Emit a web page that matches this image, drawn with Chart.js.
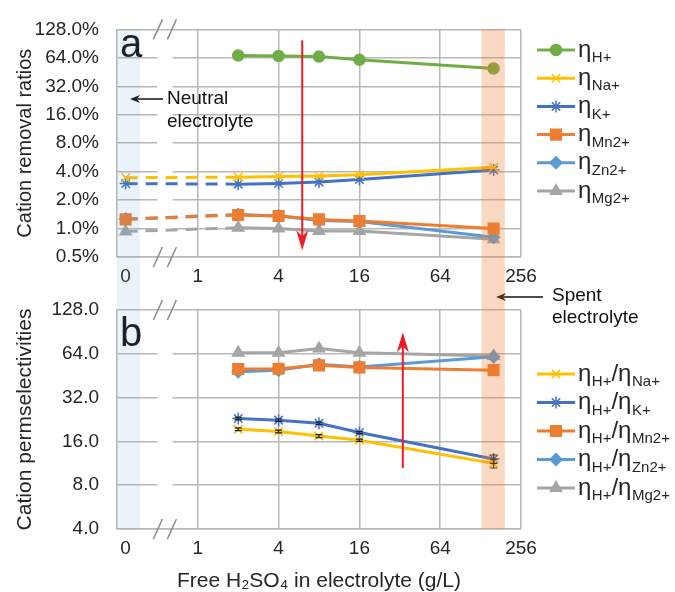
<!DOCTYPE html>
<html>
<head>
<meta charset="utf-8">
<script src="https://cdn.jsdelivr.net/npm/chart.js@4.4.1/dist/chart.umd.min.js"></script>
<style>
  html, body { margin: 0; padding: 0; background: #fff; }
  #wrap { position: relative; width: 675px; height: 592px; overflow: hidden; }
  .box { position: absolute; left: 0; width: 675px; }
  #topBox { top: 0; height: 290px; }
  #botBox { top: 270px; height: 322px; }
</style>
</head>
<body>
<div id="wrap">
  <div class="box" id="topBox"><canvas id="chartTop"></canvas></div>
  <div class="box" id="botBox"><canvas id="chartBottom"></canvas></div>
</div>
<script>
// free H2SO4 in electrolyte (g/L); 0 = neutral electrolyte, 160 = spent electrolyte
const concentrations = [0, 2, 4, 8, 16, 160];

// panel a - cation removal ratios (%)
const etaH  = [null, 67.8, 67.0, 66.0, 61.0, 49.4];
const etaNa = [3.45, 3.50, 3.56, 3.60, 3.70, 4.45];
const etaK  = [2.99, 2.95, 3.00, 3.10, 3.30, 4.17];
const etaMn = [1.25, 1.39, 1.36, 1.25, 1.20, 1.00];
const etaZn = [1.26, 1.41, 1.36, 1.22, 1.19, 0.81];
const etaMg = [0.93, 1.02, 1.00, 0.94, 0.94, 0.77];

// panel b - cation permselectivities
const selConc = [2, 4, 8, 16, 160];
const selNa = [19.4, 18.7, 17.4, 16.3, 11.3];
const selK  = [23.0, 22.4, 21.3, 18.4, 12.1];
const selMn = [50.3, 50.5, 53.3, 51.6, 49.4];
const selZn = [48.2, 49.4, 54.2, 52.0, 61.0];
const selMg = [65.2, 65.0, 69.6, 65.0, 61.8];
const selNaErr = [0.4, 0.4, 0.4, 0.3, 0.8];
const selKErr  = [0.4, 0.4, 0.4, 0.3, 0.8];

// tick labels
const xTicks = [0, 1, 4, 16, 64, 256];
const yTicksTop = [0.5, 1, 2, 4, 8, 16, 32, 64, 128];
const yTicksBottom = [4, 8, 16, 32, 64, 128];

// where "0" sits on the broken log axis
const ZERO_POS = 0.29;
const xPos = v => (v === 0 ? ZERO_POS : v);

const FONT = "'Liberation Sans', Arial, sans-serif";
const TEXT = '#262626';
const GRID = '#b8b8b8';
const C = {
  H: '#70ad47', Na: '#ffc000', K: '#4472c4', Mn: '#ed7d31', Zn: '#5b9bd5', Mg: '#a5a5a5'
};

function series(label, color, xs, ys, style, radius, dashFirst, errs) {
  const pts = [];
  xs.forEach((x, i) => {
    if (ys[i] != null) pts.push({ x: xPos(x), y: ys[i], err: errs ? errs[i] : 0 });
  });
  return {
    label, data: pts,
    borderColor: color, backgroundColor: color,
    borderWidth: 3, pointStyle: style, pointRadius: radius, pointBorderWidth: 1.5,
    pointHoverRadius: radius,
    segment: { borderDash: ctx => (dashFirst && ctx.p0DataIndex === 0 ? [12, 8] : undefined) }
  };
}

const topSets = [
  series('H+', C.H, concentrations, etaH, 'circle', 5.5, false),
  series('Na+', C.Na, concentrations, etaNa, 'crossRot', 6, true),
  series('K+', C.K, concentrations, etaK, 'star', 6, true),
  series('Mn2+', C.Mn, concentrations, etaMn, 'rect', 7.5, true),
  series('Zn2+', C.Zn, concentrations, etaZn, 'rectRot', 6, true),
  series('Mg2+', C.Mg, concentrations, etaMg, 'triangle', 6.5, true)
];
const bottomSets = [
  series('Na+', C.Na, selConc, selNa, 'crossRot', 6, false, selNaErr),
  series('K+', C.K, selConc, selK, 'star', 6, false, selKErr),
  series('Mn2+', C.Mn, selConc, selMn, 'rect', 7.5, false),
  series('Zn2+', C.Zn, selConc, selZn, 'rectRot', 6, false),
  series('Mg2+', C.Mg, selConc, selMg, 'triangle', 6.5, false)
];

function xScale(withTitle) {
  return {
    type: 'logarithmic', min: 0.25, max: 256,
    afterBuildTicks: s => { s.ticks = xTicks.map(v => ({ value: xPos(v) })); },
    afterFit: s => { s.height = withTitle ? 63 : 33; },
    border: { color: GRID, width: 1.5 },
    grid: {
      drawTicks: false, lineWidth: 1.5,
      color: c => (c.tick && c.tick.value === ZERO_POS ? 'rgba(0,0,0,0)' : GRID)
    },
    ticks: {
      autoSkip: false, maxRotation: 0, padding: 8, color: TEXT,
      font: { family: FONT, size: 19 },
      callback: v => (v === ZERO_POS ? '0' : String(v))
    },
    title: withTitle ? {
      display: true, text: 'Free H\u2082SO\u2084 in electrolyte (g/L)', color: TEXT,
      font: { family: FONT, size: 21, lineHeight: 1 }, padding: { top: 0, bottom: 0 }
    } : { display: false }
  };
}

function yScale(min, max, ticks, fmt, title, titleSize) {
  return {
    type: 'logarithmic', min, max,
    afterBuildTicks: s => { s.ticks = ticks.map(v => ({ value: v })); },
    afterFit: s => { s.width = 117; },
    border: { color: GRID, width: 1.5 },
    grid: { drawTicks: false, color: GRID, lineWidth: 1.5 },
    ticks: { autoSkip: false, padding: 18, color: TEXT, font: { family: FONT, size: 19 }, callback: fmt },
    title: {
      display: true, text: title, color: TEXT,
      font: { family: FONT, size: titleSize, lineHeight: 1 }, padding: { top: 15, bottom: 15 }
    }
  };
}

// white gap in the gridlines and // marks for the axis break
const breakPlugin = {
  id: 'axisBreak',
  beforeDatasetsDraw(chart) {
    const { ctx, chartArea: a, scales: { x } } = chart;
    const x0 = x.getPixelForValue(0.5), x1 = x.getPixelForValue(0.65);
    ctx.save();
    ctx.fillStyle = '#fff';
    ctx.fillRect(x0, a.top + 1.5, x1 - x0, a.bottom - a.top - 3);
    ctx.strokeStyle = '#8c8c8c';
    ctx.lineWidth = 1.5;
    [a.top, a.bottom].forEach(y => {
      [x0 - 4, x0 + 10].forEach(sx => {
        ctx.beginPath();
        ctx.moveTo(sx, y + 10);
        ctx.lineTo(sx + 9, y - 10);
        ctx.stroke();
      });
    });
    ctx.restore();
  }
};

const errorPlugin = {
  id: 'errBars',
  afterDatasetsDraw(chart) {
    const { ctx, scales: { y } } = chart;
    ctx.save();
    ctx.strokeStyle = '#222';
    ctx.lineWidth = 1.2;
    chart.data.datasets.forEach((ds, di) => {
      const meta = chart.getDatasetMeta(di);
      ds.data.forEach((p, i) => {
        if (!p.err) return;
        const px = meta.data[i].x;
        const yt = y.getPixelForValue(p.y + p.err), yb = y.getPixelForValue(p.y - p.err);
        ctx.beginPath();
        ctx.moveTo(px, yt); ctx.lineTo(px, yb);
        ctx.moveTo(px - 3.5, yt); ctx.lineTo(px + 3.5, yt);
        ctx.moveTo(px - 3.5, yb); ctx.lineTo(px + 3.5, yb);
        ctx.stroke();
      });
    });
    ctx.restore();
  }
};

function arrow(ctx, x1, y1, x2, y2, color, width, head, halfW) {
  const ang = Math.atan2(y2 - y1, x2 - x1);
  const cos = Math.cos(ang), sin = Math.sin(ang);
  ctx.save();
  ctx.strokeStyle = color; ctx.fillStyle = color; ctx.lineWidth = width;
  ctx.beginPath();
  ctx.moveTo(x1, y1);
  ctx.lineTo(x2 - cos * head * 0.6, y2 - sin * head * 0.6);
  ctx.stroke();
  ctx.beginPath();
  ctx.moveTo(x2, y2);
  ctx.lineTo(x2 - cos * head - sin * halfW, y2 - sin * head + cos * halfW);
  ctx.lineTo(x2 - cos * head * 0.7, y2 - sin * head * 0.7);
  ctx.lineTo(x2 - cos * head + sin * halfW, y2 - sin * head - cos * halfW);
  ctx.closePath();
  ctx.fill();
  ctx.restore();
}

function drawEta(ctx, x, y, sub) {
  ctx.font = '24px ' + FONT;
  ctx.fillText('\u03b7', x, y);
  x += ctx.measureText('\u03b7').width + 0.5;
  ctx.font = '15px ' + FONT;
  ctx.fillText(sub, x, y + 8);
  return x + ctx.measureText(sub).width;
}

// legend with subscripts, drawn at the right of each panel
function legendPlugin(entries, startY, step, ratio) {
  return {
    id: 'subLegend',
    afterDraw(chart) {
      const ctx = chart.ctx;
      chart.data.datasets.forEach((ds, i) => {
        const y = startY + i * step;
        ctx.save();
        ctx.strokeStyle = ds.borderColor; ctx.lineWidth = 3;
        ctx.beginPath(); ctx.moveTo(537, y); ctx.lineTo(575, y); ctx.stroke();
        ctx.fillStyle = ds.backgroundColor; ctx.strokeStyle = ds.borderColor; ctx.lineWidth = 1.5;
        Chart.helpers.drawPoint(ctx, { pointStyle: ds.pointStyle, radius: ds.pointRadius, borderWidth: 1.5, rotation: 0 }, 556, y);
        ctx.fillStyle = TEXT;
        ctx.textBaseline = 'middle';
        let x = 578;
        if (ratio) {
          x = drawEta(ctx, x, y, 'H+');
          ctx.font = '24px ' + FONT;
          ctx.fillText('/', x, y);
          x += ctx.measureText('/').width;
        }
        drawEta(ctx, x, y, entries[i]);
        ctx.restore();
      });
    }
  };
}

// shaded bands for the neutral (0) and spent (160 g/L) electrolytes, continuous across both panels
function bandPlugin(isTop) {
  return {
    id: 'bands',
    afterDraw(chart) {
      const { ctx, chartArea: a, scales: { x } } = chart;
      const y0 = isTop ? a.top : 20, y1 = isTop ? 290 : a.bottom;
      ctx.save();
      ctx.fillStyle = 'rgba(91,155,213,0.13)';
      ctx.fillRect(x.getPixelForValue(0.25), y0, x.getPixelForValue(0.37) - x.getPixelForValue(0.25), y1 - y0);
      ctx.fillStyle = 'rgba(237,125,49,0.3)';
      ctx.fillRect(x.getPixelForValue(130), y0, x.getPixelForValue(194) - x.getPixelForValue(130), y1 - y0);
      ctx.restore();
    }
  };
}

const topNotes = {
  id: 'notesTop',
  afterDraw(chart) {
    const { ctx, chartArea: a, scales: { x, y } } = chart;
    ctx.save();
    ctx.fillStyle = '#111';
    ctx.font = '40px ' + FONT;
    ctx.textBaseline = 'alphabetic';
    ctx.fillText('a', a.left + 3, a.top + 28);
    arrow(ctx, 163, 99, 130, 99, '#111', 1.5, 10, 4);
    ctx.font = '19px ' + FONT;
    ctx.textBaseline = 'middle';
    ctx.fillText('Neutral', 167, 99);
    ctx.fillText('electrolyte', 167, 122);
    const ax = x.getPixelForValue(6);
    arrow(ctx, ax, y.getPixelForValue(98), ax, y.getPixelForValue(0.59), '#ee1c25', 2, 20, 6);
    ctx.restore();
  }
};

const bottomNotes = {
  id: 'notesBottom',
  afterDraw(chart) {
    const { ctx, chartArea: a, scales: { x, y } } = chart;
    ctx.save();
    ctx.fillStyle = '#111';
    ctx.font = '40px ' + FONT;
    ctx.fillText('b', a.left + 3, a.top + 36);
    arrow(ctx, 543, 27, 496, 27, '#111', 1.5, 10, 4);
    ctx.font = '19px ' + FONT;
    ctx.textBaseline = 'middle';
    ctx.fillText('Spent', 552, 26);
    ctx.fillText('electrolyte', 552, 48);
    const ax = x.getPixelForValue(33.7);
    arrow(ctx, ax, y.getPixelForValue(10.5), ax, y.getPixelForValue(90), '#ee1c25', 2, 20, 6);
    ctx.restore();
  }
};

const common = {
  responsive: true, maintainAspectRatio: false, animation: false,
  plugins: { legend: { display: false }, tooltip: { enabled: false } }
};

new Chart(document.getElementById('chartTop'), {
  type: 'line',
  data: { datasets: topSets },
  options: {
    ...common,
    layout: { padding: { top: 24, right: 154, left: 0, bottom: 0 } },
    scales: {
      x: xScale(false),
      y: yScale(0.5, 128, yTicksTop, v => v.toFixed(1) + '%', 'Cation removal ratios', 20)
    }
  },
  plugins: [breakPlugin, errorPlugin, topNotes, bandPlugin(true),
    legendPlugin(['H+', 'Na+', 'K+', 'Mn2+', 'Zn2+', 'Mg2+'], 50, 28.2, false)]
});

new Chart(document.getElementById('chartBottom'), {
  type: 'line',
  data: { datasets: bottomSets },
  options: {
    ...common,
    layout: { padding: { top: 40, right: 154, left: 0, bottom: 0 } },
    scales: {
      x: xScale(true),
      y: yScale(4, 128, yTicksBottom, v => v.toFixed(1), 'Cation permselectivities', 21)
    }
  },
  plugins: [breakPlugin, errorPlugin, bottomNotes, bandPlugin(false),
    legendPlugin(['Na+', 'K+', 'Mn2+', 'Zn2+', 'Mg2+'], 104, 28.5, true)]
});
</script>
</body>
</html>
